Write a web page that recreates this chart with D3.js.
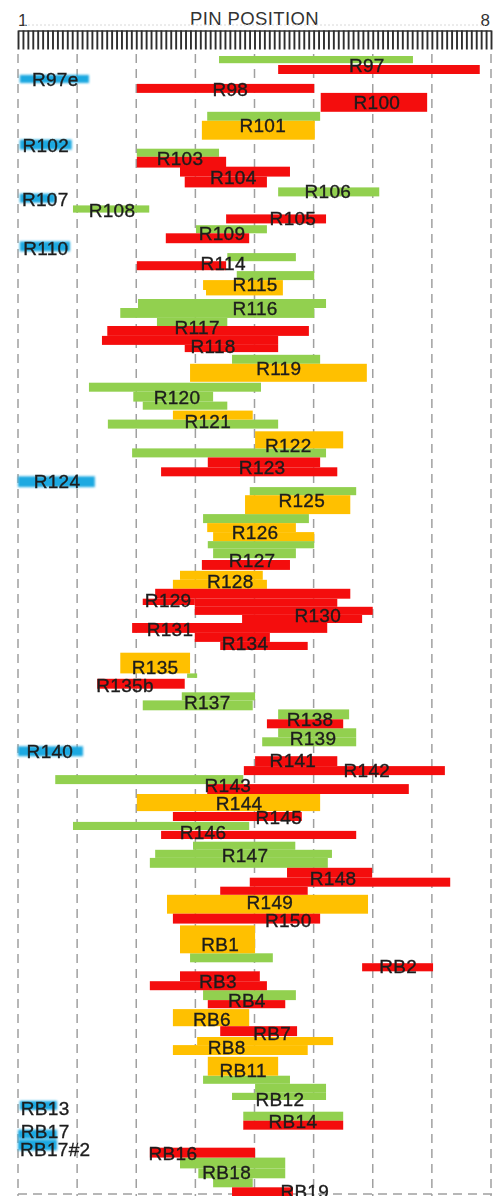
<!DOCTYPE html>
<html>
<head>
<meta charset="utf-8">
<script src="https://cdn.jsdelivr.net/npm/d3@7/dist/d3.min.js"></script>
<style>
  html, body { margin: 0; padding: 0; background: #fff; }
  svg { display: block; }
</style>
</head>
<body>
<svg id="chart" width="493" height="1196"></svg>
<script>
// Pin position columns 1..8 (x spans 0..8 column units); y is the track index.
const pinTicks = ["1", "8"];
const axisTitle = "PIN POSITION";

// Segments: [x start, x end, track top, track bottom]
const greenBars = [
  [3.40, 6.68, 0.0, 0.8], [3.20, 5.11, 6.2, 7.2], [2.01, 3.40, 10.3, 11.2],
  [4.40, 6.11, 14.6, 15.6], [0.93, 2.22, 16.6, 17.4], [3.01, 4.21, 18.8, 19.7],
  [3.54, 4.70, 21.9, 22.8], [3.70, 5.01, 23.9, 24.9], [2.03, 5.21, 27.0, 28.0],
  [1.73, 5.01, 28.0, 29.1], [2.35, 3.54, 29.1, 30.1], [3.62, 5.11, 33.2, 34.2],
  [1.20, 4.11, 36.3, 37.3], [1.95, 3.30, 37.3, 38.4], [2.11, 3.54, 38.4, 39.3],
  [1.52, 4.40, 40.4, 41.4], [1.93, 5.21, 43.6, 44.6], [3.92, 5.72, 47.9, 48.8],
  [3.13, 4.92, 50.9, 51.9], [3.21, 5.01, 53.9, 54.7], [3.30, 4.70, 54.7, 55.8],
  [2.86, 3.03, 68.6, 69.1], [2.77, 4.01, 70.7, 71.6], [2.11, 3.97, 71.6, 72.7],
  [4.40, 5.60, 72.6, 73.7], [4.40, 5.72, 74.7, 75.7], [4.13, 5.72, 75.7, 76.7],
  [0.63, 3.81, 79.9, 80.9], [0.93, 3.91, 85.1, 86.0], [2.96, 4.69, 87.3, 88.2],
  [2.32, 5.31, 88.2, 89.1], [2.23, 5.24, 89.1, 90.2], [2.91, 4.31, 99.7, 100.7],
  [3.13, 4.70, 103.8, 104.9], [3.13, 4.60, 113.3, 114.2], [4.01, 5.21, 114.2, 115.2],
  [3.62, 5.21, 115.2, 116.0], [3.81, 5.50, 117.3, 118.3], [2.74, 4.52, 122.4, 123.6],
  [3.05, 4.52, 123.6, 124.7], [3.30, 3.97, 124.7, 125.7]
];

const redBars = [
  [4.40, 7.81, 1.0, 2.0], [2.01, 5.01, 3.1, 4.1], [5.12, 6.92, 4.1, 6.2],
  [2.01, 3.52, 11.2, 12.4], [2.74, 4.60, 12.3, 13.4], [2.82, 4.21, 13.4, 14.6],
  [3.52, 5.21, 17.6, 18.6], [2.50, 3.91, 19.7, 20.8], [2.01, 3.52, 22.8, 23.8],
  [1.51, 4.92, 30.0, 31.1], [1.42, 4.40, 31.1, 32.1], [2.82, 4.40, 32.1, 32.9],
  [3.21, 5.11, 44.6, 45.7], [2.42, 5.40, 45.7, 46.7], [3.11, 4.60, 56.0, 57.1],
  [2.32, 5.62, 59.2, 60.3], [2.11, 2.99, 60.3, 61.0], [2.99, 5.40, 60.3, 61.2],
  [2.99, 6.00, 61.2, 62.1], [3.79, 5.82, 62.1, 63.0], [1.93, 5.23, 63.0, 64.1],
  [2.99, 4.26, 64.1, 65.1], [3.42, 4.90, 65.1, 66.0], [1.34, 2.82, 69.2, 70.3],
  [4.21, 5.50, 73.7, 74.7], [4.01, 5.40, 77.8, 78.9], [3.82, 7.22, 78.9, 79.9],
  [3.20, 6.61, 80.9, 82.0], [2.62, 4.80, 84.0, 85.0], [2.42, 5.72, 86.1, 87.0],
  [4.55, 5.99, 90.2, 91.3], [3.92, 7.31, 91.3, 92.3], [3.42, 4.90, 92.3, 93.2],
  [2.62, 5.11, 95.3, 96.4], [5.82, 7.02, 100.8, 101.7], [2.74, 4.09, 101.7, 102.8],
  [2.23, 4.21, 102.8, 103.8], [3.21, 4.52, 104.9, 105.8], [3.42, 4.72, 107.8, 108.9],
  [3.81, 5.50, 118.3, 119.3], [2.23, 4.01, 121.3, 122.4], [3.62, 4.65, 125.7, 126.9]
];

const orangeBars = [
  [3.11, 5.02, 7.2, 9.3], [3.13, 4.48, 24.9, 26.0], [3.18, 4.48, 26.0, 26.6],
  [2.91, 5.90, 34.2, 36.2], [2.62, 3.97, 39.4, 40.4], [4.01, 5.50, 41.7, 43.6],
  [3.84, 5.62, 48.8, 50.9], [3.20, 4.70, 51.9, 52.9], [3.30, 5.01, 52.9, 53.9],
  [2.74, 4.14, 57.2, 58.2], [2.62, 4.21, 58.2, 59.2], [1.73, 2.91, 66.3, 68.6],
  [2.01, 5.11, 82.0, 83.9], [2.52, 5.92, 93.2, 95.3], [2.74, 4.01, 96.6, 99.7],
  [2.62, 3.91, 105.9, 107.8], [3.03, 5.33, 109.0, 109.9], [2.62, 4.90, 109.9, 111.0],
  [3.21, 4.40, 111.2, 113.3]
];

const blueBars = [
  [0.03, 1.20, 2.1, 3.0], [0.03, 0.91, 9.3, 10.4], [0.03, 0.63, 15.3, 16.3],
  [0.03, 0.88, 20.6, 21.7], [0.00, 1.30, 46.7, 47.9], [0.00, 1.10, 76.7, 77.8],
  [0.03, 0.66, 116.1, 117.1], [0.00, 0.66, 119.3, 120.3], [0.00, 0.66, 120.4, 121.6]
];

// Labels: [name, x centre, track centre]
const labels = [
  ["R97", 5.90, 1.0], ["R97e", 0.63, 2.6], ["R98", 3.59, 3.7], ["R100", 6.07, 5.1],
  ["R101", 4.14, 7.7], ["R102", 0.47, 9.9], ["R103", 2.74, 11.3], ["R104", 3.64, 13.5],
  ["R106", 5.24, 15.0], ["R107", 0.46, 15.9], ["R108", 1.59, 17.1], ["R105", 4.65, 18.0],
  ["R109", 3.45, 19.7], ["R110", 0.47, 21.3], ["R114", 3.47, 23.0], ["R115", 4.01, 25.4],
  ["R116", 4.01, 28.0], ["R117", 3.03, 30.1], ["R118", 3.30, 32.2], ["R119", 4.41, 34.7],
  ["R120", 2.69, 37.9], ["R121", 3.21, 40.6], ["R122", 4.57, 43.2], ["R123", 4.13, 45.7],
  ["R124", 0.66, 47.2], ["R125", 4.80, 49.3], ["R126", 4.01, 52.9], ["R127", 3.96, 56.0],
  ["R128", 3.59, 58.3], ["R129", 2.54, 60.5], ["R130", 5.07, 62.1], ["R131", 2.57, 63.7],
  ["R134", 3.84, 65.2], ["R135", 2.32, 67.9], ["R135b", 1.81, 69.9], ["R137", 3.20, 71.8],
  ["R138", 4.94, 73.7], ["R139", 4.99, 75.8], ["R140", 0.54, 77.2], ["R141", 4.65, 78.2],
  ["R142", 5.90, 79.4], ["R143", 3.55, 81.0], ["R144", 3.74, 83.0], ["R145", 4.41, 84.6],
  ["R146", 3.13, 86.2], ["R147", 3.84, 88.8], ["R148", 5.33, 91.3], ["R149", 4.26, 94.0],
  ["R150", 4.57, 96.0], ["RB1", 3.42, 98.7], ["RB2", 6.43, 101.1], ["RB3", 3.38, 102.8],
  ["RB4", 3.87, 104.9], ["RB6", 3.28, 107.0], ["RB7", 4.30, 108.6], ["RB8", 3.53, 110.1],
  ["RB11", 3.81, 112.7], ["RB12", 4.43, 115.9], ["RB13", 0.46, 116.9], ["RB14", 4.65, 118.4],
  ["RB17", 0.46, 119.5], ["RB17#2", 0.63, 121.5], ["RB16", 2.62, 121.9], ["RB18", 3.53, 124.0],
  ["RB19", 4.85, 126.1]
];

const colors = { green: "#92d050", red: "#f40c0c", orange: "#ffc000", blue: "#1fa9e1" };

const svg = d3.select("#chart");
const width = 493, height = 1196;
const font = "Liberation Sans, Arial, sans-serif";

const x = d3.scaleLinear().domain([0, 8]).range([18, 491]);
const y = d3.scaleLinear().domain([0, 127]).range([56, 56 + 127 * 9]);

const defs = svg.append("defs");
defs.append("filter").attr("id", "glow")
  .attr("x", "-20%").attr("y", "-60%").attr("width", "140%").attr("height", "220%")
  .append("feGaussianBlur").attr("stdDeviation", 1.1);
defs.append("filter").attr("id", "soft")
  .append("feGaussianBlur").attr("stdDeviation", 0.35);

// Title and end labels of the pin axis
svg.append("text")
  .attr("x", (x(0) + x(8)) / 2).attr("y", 25)
  .attr("text-anchor", "middle")
  .attr("font-family", font)
  .attr("font-size", 18.5).attr("fill", "#333")
  .attr("letter-spacing", 0.4)
  .text(axisTitle);

svg.append("text")
  .attr("x", x(0)).attr("y", 26)
  .attr("text-anchor", "start")
  .attr("font-family", font)
  .attr("font-size", 17).attr("fill", "#333")
  .text(pinTicks[0]);

svg.append("text")
  .attr("x", x(8) - 1).attr("y", 26)
  .attr("text-anchor", "end")
  .attr("font-family", font)
  .attr("font-size", 17).attr("fill", "#333")
  .text(pinTicks[1]);

// Faint dotted guide above the ruler
svg.append("line")
  .attr("x1", x(0) + 6).attr("x2", x(8) - 6)
  .attr("y1", 25).attr("y2", 25)
  .attr("stroke", "#d8d8d8").attr("stroke-width", 1)
  .attr("stroke-dasharray", "2,2");

// Ruler: twelve divisions per pin column
const ruler = d3.axisBottom(x)
  .tickValues(d3.range(0, 96 + 1).map(i => i / 12))
  .tickSize(19)
  .tickSizeOuter(0)
  .tickFormat("");

const rulerG = svg.append("g")
  .attr("transform", "translate(0,30.5)")
  .call(ruler);
rulerG.select(".domain").attr("stroke", "#333").attr("stroke-width", 1.6);
rulerG.selectAll(".tick line").attr("stroke", "#2e2e2e").attr("stroke-width", 1.9);

// Dashed column separators
svg.append("g")
  .selectAll("line")
  .data(d3.range(0, 9))
  .join("line")
  .attr("x1", d => x(d)).attr("x2", d => x(d))
  .attr("y1", 54).attr("y2", height)
  .attr("stroke", "#a0a0a0").attr("stroke-width", 1.5)
  .attr("stroke-dasharray", "9,6");

// Dashed baseline at the bottom
svg.append("line")
  .attr("x1", x(0)).attr("x2", width)
  .attr("y1", 1194).attr("y2", 1194)
  .attr("stroke", "#a0a0a0").attr("stroke-width", 1.5)
  .attr("stroke-dasharray", "9,6");

function drawBars(data, color, filter) {
  const g = svg.append("g");
  if (filter) g.attr("filter", filter);
  g.selectAll("rect")
    .data(data)
    .join("rect")
    .attr("x", d => x(d[0]))
    .attr("y", d => y(d[2]))
    .attr("width", d => x(d[1]) - x(d[0]))
    .attr("height", d => y(d[3]) - y(d[2]))
    .attr("fill", color);
}

drawBars(greenBars, colors.green, "url(#soft)");
drawBars(orangeBars, colors.orange, "url(#soft)");
drawBars(redBars, colors.red, "url(#soft)");
drawBars(blueBars, colors.blue, "url(#glow)");

// Region names
svg.append("g")
  .attr("filter", "url(#soft)")
  .selectAll("text")
  .data(labels)
  .join("text")
  .attr("x", d => x(d[1]))
  .attr("y", d => y(d[2]))
  .attr("dy", "0.36em")
  .attr("text-anchor", "middle")
  .attr("font-family", font)
  .attr("font-size", 19)
  .attr("letter-spacing", 0.3)
  .attr("fill", "#1c1c1c")
  .attr("stroke", "#1c1c1c")
  .attr("stroke-width", 0.35)
  .text(d => d[0]);
</script>
</body>
</html>
